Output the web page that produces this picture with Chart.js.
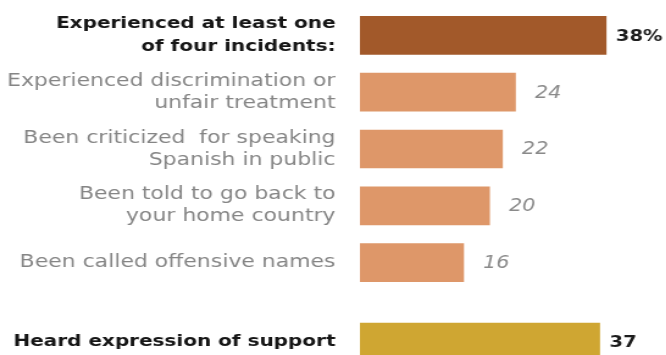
<!DOCTYPE html>
<html>
<head>
<meta charset="utf-8">
<script src="https://cdn.jsdelivr.net/npm/chart.js@4.4.1/dist/chart.umd.min.js"></script>
<style>
  html, body { margin: 0; padding: 0; background: #fff; overflow: hidden; }
  #wrap {
    position: relative; width: 546px; height: 400px;
    transform: scaleX(1.22); transform-origin: 0 0;
    filter: blur(0.4px);
  }
  #wrap canvas { position: absolute; left: 0; }
</style>
</head>
<body>
<div id="wrap">
  <canvas id="incidentChart" width="546" height="300" style="top:0"></canvas>
  <canvas id="supportChart" width="546" height="84" style="top:300px"></canvas>
</div>
<script>
// data
const incidentLabels = [
    ["Experienced at least one", "of four incidents:"],
    ["Experienced discrimination or", "unfair treatment"],
    ["Been criticized  for speaking", "Spanish in public"],
    ["Been told to go back to", "your home country"],
    "Been called offensive names"
];
const incidentValues = [38, 24, 22, 20, 16];
const supportLabels = ["Heard expression of support"];
const supportValues = [37];

const AXIS_W = 295;
const XMAX = 45;

var boldFont = { family: "'DejaVu Sans', sans-serif", size: 16.4, weight: 'bold', lineHeight: 1.42 };
var plainFont = { family: "'DejaVu Sans', sans-serif", size: 18, weight: 'normal', lineHeight: 1.22 };

// writes the number just past the end of each bar
var valueLabels = {
    id: 'valueLabels',
    afterDatasetsDraw(chart, args, opts) {
        const ctx = chart.ctx;
        const meta = chart.getDatasetMeta(0);
        const vals = chart.data.datasets[0].data;
        ctx.save();
        ctx.textBaseline = 'middle';
        ctx.textAlign = 'left';
        meta.data.forEach(function(bar, i) {
            var bold = opts.boldIdx.indexOf(i) >= 0;
            var txt = String(vals[i]) + (i == 0 && opts.pct ? '%' : '');
            if (bold) {
                ctx.font = "bold 16px 'DejaVu Sans', sans-serif";
                ctx.fillStyle = '#1c1c1c';
                ctx.fillText(txt, bar.x + 8, bar.y + 1);
            } else {
                ctx.font = "oblique 17px 'DejaVu Sans', sans-serif";
                ctx.fillStyle = '#8a8a8a';
                ctx.fillText(txt, bar.x + 16, bar.y + 1);
            }
        });
        ctx.restore();
    }
};

function makeChart(id, labels, values, colors, boldIdx, pct, pad) {
    return new Chart(document.getElementById(id), {
        type: 'bar',
        data: {
            labels: labels,
            datasets: [{
                data: values,
                backgroundColor: colors,
                borderWidth: 0,
                barThickness: 38
            }]
        },
        options: {
            indexAxis: 'y',
            responsive: false,
            animation: false,
            devicePixelRatio: 1,
            layout: { padding: { top: pad[0], bottom: pad[1], right: 12, left: 0 } },
            plugins: {
                legend: { display: false },
                tooltip: { enabled: false },
                valueLabels: { boldIdx: boldIdx, pct: pct }
            },
            scales: {
                x: { display: false, min: 0, max: XMAX },
                y: {
                    grid: { display: false, drawTicks: false },
                    border: { display: false },
                    afterFit: function(scale) {
                        scale.width = AXIS_W;
                        // labels may overhang, keep the plot area full height
                        scale.paddingTop = 0;
                        scale.paddingBottom = 0;
                    },
                    ticks: {
                        padding: 20,
                        font: function(c) { return boldIdx.indexOf(c.index) >= 0 ? boldFont : plainFont; },
                        color: function(c) { return boldIdx.indexOf(c.index) >= 0 ? '#161616' : '#858585'; }
                    }
                }
            }
        },
        plugins: [valueLabels]
    });
}

makeChart('incidentChart', incidentLabels, incidentValues,
    ['#a2592a', '#de9769', '#de9769', '#de9769', '#de9769'], [0], true, [7, 9]);
makeChart('supportChart', supportLabels, supportValues,
    ['#cfa632'], [0], false, [0, 0]);
</script>
</body>
</html>
